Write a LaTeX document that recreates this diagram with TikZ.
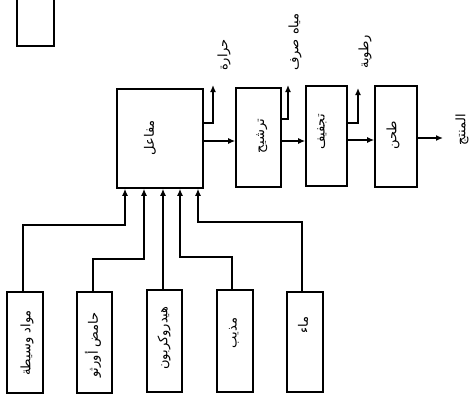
\documentclass[tikz,border=0pt]{standalone}
\usepackage{fontspec}
\newfontfamily\arabicfont[Script=Arabic]{DejaVu Sans}
\TeXXeTstate=1
\usetikzlibrary{arrows.meta}
\begin{document}
\begin{tikzpicture}[x=1pt,y=-1pt,
  box/.style={draw, line width=1.6pt, inner sep=0pt},
  lbl/.style={rotate=90, font=\arabicfont\fontsize{13}{15}\selectfont, inner sep=0pt},
  arr/.style={line width=1.3pt, -{Latex[length=7pt,width=6pt]}}]
\fill[white] (0,0) rectangle (472,402);
\useasboundingbox (0,0) rectangle (472,402);
% partial box at top left
\begin{scope}
\clip (0,0) rectangle (472,402);
\node[box, minimum width=37pt, minimum height=70pt] (src) at (35.5,11) {};
\end{scope}
% process boxes
\node[box, minimum width=86pt, minimum height=99pt] (reactor) at (160,138.5) {};
\node[box, minimum width=45pt, minimum height=99pt] (filt) at (258.5,137.5) {};
\node[box, minimum width=41pt, minimum height=100pt] (dry) at (326.5,136) {};
\node[box, minimum width=42pt, minimum height=101pt] (grind) at (396,136.5) {};
% input boxes
\node[box, minimum width=36pt, minimum height=101pt] (in1) at (25,342.5) {};
\node[box, minimum width=35pt, minimum height=101pt] (in2) at (94.5,342.5) {};
\node[box, minimum width=35pt, minimum height=102pt] (in3) at (164.5,341) {};
\node[box, minimum width=36pt, minimum height=102pt] (in4) at (235,341) {};
\node[box, minimum width=36pt, minimum height=100pt] (in5) at (305,342) {};
% texts
\node[lbl] (treactor) at (150,138) {\beginR مفاعل\endR};
\node[lbl] (tfilt) at (262,136) {\beginR ترشيح\endR};
\node[lbl] (tdry) at (322,132) {\beginR تجفيف\endR};
\node[lbl] (tgrind) at (393,135) {\beginR طحن\endR};
\node[lbl] (theat) at (224,55) {\beginR حرارة\endR};
\node[lbl] (twaste) at (295,42) {\beginR مياه صرف\endR};
\node[lbl] (tmoist) at (365,52) {\beginR رطوبة\endR};
\node[lbl] (tprod) at (462,130) {\beginR المنتج\endR};
\node[lbl] (t1) at (27,343) {\beginR مواد وسيطة\endR};
\node[lbl] (t2) at (93,345) {\beginR حامض أورثو\endR};
\node[lbl] (t3) at (164,338) {\beginR هيدروكربون\endR};
\node[lbl] (t4) at (234,333) {\beginR مذيب\endR};
\node[lbl] (t5) at (303,325) {\beginR ماء\endR};
% end points
\coordinate (heatend) at (213,85);
\coordinate (wasteend) at (288,85);
\coordinate (moistend) at (358,88);
\coordinate (prodend) at (443,138);
% main flow
\draw[arr] (reactor.east |- 0,141) -- (filt.west |- 0,141);
\draw[arr] (filt.east |- 0,141) -- (dry.west |- 0,141);
\draw[arr] (dry.east |- 0,140) -- (grind.west |- 0,140);
\draw[arr] (grind.east |- 0,138) -- (prodend);
% side outputs
\draw[arr] (reactor.east |- 0,123) -| (heatend);
\draw[arr] (filt.east |- 0,119) -| (wasteend);
\draw[arr] (dry.east |- 0,123) -| (moistend);
% inputs
\draw[arr] (in1.north -| 23,0) |- (125,225) -- (reactor.south -| 125,0);
\draw[arr] (in2.north -| 93,0) |- (144,259) -- (reactor.south -| 144,0);
\draw[arr] (in3.north -| 163,0) -- (reactor.south -| 163,0);
\draw[arr] (in4.north -| 232,0) |- (180,257) -- (reactor.south -| 180,0);
\draw[arr] (in5.north -| 302,0) |- (198,222) -- (reactor.south -| 198,0);
\end{tikzpicture}
\end{document}
